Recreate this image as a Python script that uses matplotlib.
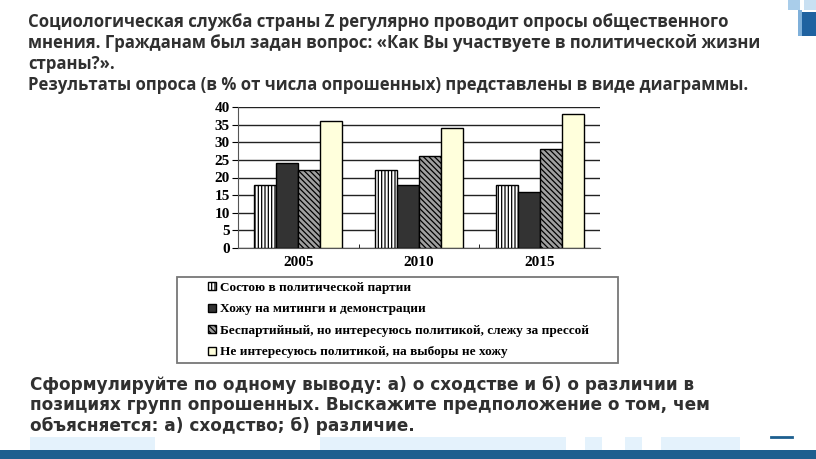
import matplotlib.pyplot as plt
import matplotlib.patches as mpatches
import numpy as np

plt.rcParams['hatch.linewidth'] = 0.9

# данные диаграммы
years = ['2005', '2010', '2015']
party = [18, 22, 18]          # Состою в политической партии
rallies = [24, 18, 16]        # Хожу на митинги и демонстрации
press = [22, 26, 28]          # Беспартийный, но интересуюсь политикой
apathy = [36, 34, 38]         # Не интересуюсь политикой
series_labels = [
    'Состою в политической партии',
    'Хожу на митинги и демонстрации',
    'Беспартийный, но интересуюсь политикой, слежу за прессой',
    'Не интересуюсь политикой, на выборы не хожу',
]
y_ticks = [0, 5, 10, 15, 20, 25, 30, 35, 40]

title_lines = [
    'Социологическая служба страны Z регулярно проводит опросы общественного',
    'мнения. Гражданам был задан вопрос: «Как Вы участвуете в политической жизни',
    'страны?».',
    'Результаты опроса (в % от числа опрошенных) представлены в виде диаграммы.',
]
question_lines = [
    'Сформулируйте по одному выводу: а) о сходстве и б) о различии в',
    'позициях групп опрошенных. Выскажите предположение о том, чем',
    'объясняется: а) сходство; б) различие.',
]

W, H = 816, 459
fig = plt.figure(figsize=(W / 100, H / 100), dpi=100, facecolor='white')

def px(x, y):
    # пиксели картинки -> координаты фигуры
    return x / W, 1 - y / H

# оформление слайда
deco = fig.add_axes([0, 0, 1, 1], zorder=-5)
deco.set_xlim(0, W)
deco.set_ylim(H, 0)
deco.axis('off')
deco.add_patch(mpatches.Rectangle((0, 450), W, 9, color='#1d5f8f', lw=0))
for x0, x1 in [(30, 155), (320, 566), (585, 602), (625, 642), (661, 740)]:
    deco.add_patch(mpatches.Rectangle((x0, 437), x1 - x0, 13, color='#e4f2fc', lw=0))
deco.plot([771, 792], [437, 437], color='#1d5f8f', lw=2)
deco.add_patch(mpatches.Rectangle((801, 12), 15, 24, color='#1f62a0', lw=0))
deco.add_patch(mpatches.Rectangle((788, 0), 12, 10, color='#a9cdea', lw=0))
deco.add_patch(mpatches.Rectangle((804, 0), 12, 10, color='#c9e0f2', lw=0))
deco.add_patch(mpatches.Rectangle((798, 10), 4, 26, color='#7fb0da', lw=0))

text_color = '#303030'
for i, line in enumerate(title_lines):
    fig.text(*px(28, 22 + i * 21), line, fontsize=12.1, fontweight='bold',
             family='Open Sans', color=text_color, va='center', ha='left')
for i, line in enumerate(question_lines):
    fig.text(*px(30, 385 + i * 20.5), line, fontsize=12.2, fontweight='bold',
             family='DejaVu Sans', color=text_color, va='center', ha='left')

# диаграмма
ax = fig.add_axes([238 / W, 1 - 248 / H, 362 / W, 141 / H])
x = np.arange(len(years))
w = 0.183
styles = [
    dict(facecolor='white', hatch='|||||'),
    dict(facecolor='#333333'),
    dict(facecolor='#a0a0a0', hatch='\\\\\\\\\\\\'),
    dict(facecolor='#ffffdc'),
]
handles = []
for k, vals in enumerate([party, rallies, press, apathy]):
    b = ax.bar(x + (k - 1.5) * w, vals, width=w, edgecolor='black', linewidth=1,
               zorder=3, label=series_labels[k], **styles[k])
    handles.append(b)

ax.set_xlim(-0.5, 2.5)
ax.set_ylim(0, 40)
ax.set_yticks(y_ticks)
ax.yaxis.grid(True, color='#222222', linewidth=1)
ax.set_axisbelow(True)
for s in ['top', 'right']:
    ax.spines[s].set_visible(False)
ax.spines['left'].set_color('#555555')
ax.spines['bottom'].set_color('#555555')
ax.set_xticks(x)
ax.set_xticklabels(years)
ax.set_xticks([0.5, 1.5], minor=True)
ax.tick_params(axis='x', which='major', length=0, pad=6)
ax.tick_params(axis='x', which='minor', length=3, direction='in')
ax.tick_params(axis='y', length=4, pad=2)
for lab in ax.get_xticklabels() + ax.get_yticklabels():
    lab.set_family('Liberation Serif')
    lab.set_fontweight('bold')
    lab.set_fontsize(11)

# легенда
deco.add_patch(mpatches.Rectangle((177, 277), 441, 86, facecolor='white',
                                  edgecolor='#777777', lw=1.3, zorder=2))
fig.legend(handles=handles, loc='upper left', bbox_to_anchor=px(196, 270),
           frameon=False, prop={'family': 'Liberation Serif', 'weight': 'bold', 'size': 9.5},
           handlelength=0.6, handleheight=0.6, handletextpad=0.3, labelspacing=0.72)

fig.savefig('out.png', dpi=100)
